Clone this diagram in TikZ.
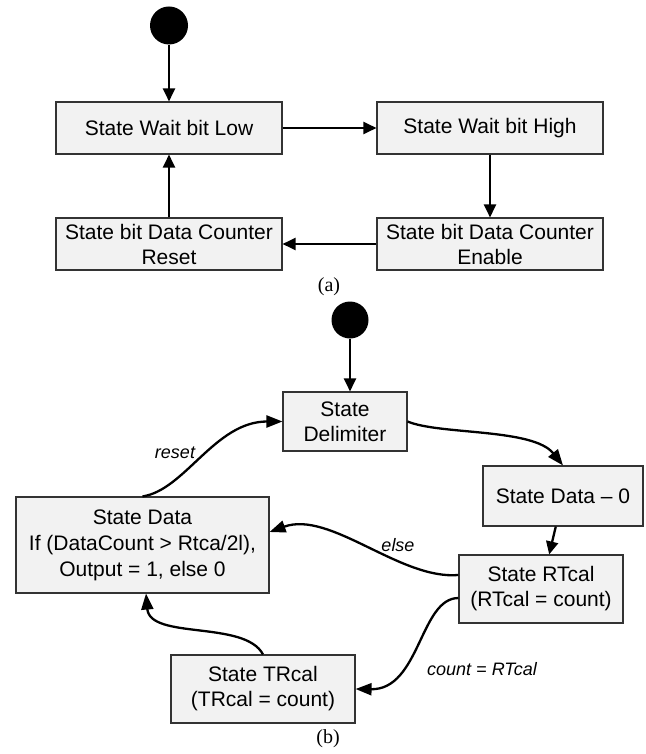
\documentclass[tikz,border=0pt]{standalone}
\usepackage{fontspec}
\setmainfont{Liberation Sans}
\newfontfamily\capfont{Liberation Serif}
\usetikzlibrary{arrows.meta}
\definecolor{boxfill}{HTML}{F2F2F2}
\definecolor{boxline}{HTML}{333333}
\tikzset{
  statebox/.style={draw=boxline, line width=1.1pt, fill=boxfill, align=center,
    inner sep=0pt, font=\fontsize{21}{25}\selectfont},
  startdot/.style={circle, fill=black, inner sep=0pt, minimum size=38pt},
  arr/.style={line width=2.3pt, -{Triangle[length=13pt,width=12pt]}},
  carr/.style={line width=2.3pt, -{Triangle[length=16pt,width=12pt]}},
  edgelabel/.style={font=\fontsize{18}{21}\selectfont\itshape},
  caption/.style={font=\capfont\fontsize{20}{24}\selectfont},
}
\begin{document}
\begin{tikzpicture}[x=1pt,y=1pt]
\useasboundingbox (0,0) rectangle (645,-754);

% ---- (a) bit level machine ----
\node[startdot] (sa) at (169,-25.5) {};
\node[statebox, minimum width=226pt, minimum height=52pt] (low) at (169,-128) {State Wait bit Low};
\node[statebox, minimum width=226pt, minimum height=52pt] (high) at (490,-128) {State Wait bit High};
\node[statebox, minimum width=226pt, minimum height=52pt] (rst) at (169,-244) {State bit Data Counter\\Reset};
\node[statebox, minimum width=226pt, minimum height=52pt] (ena) at (490,-244) {State bit Data Counter\\Enable};
\node[caption] (capa) at (329,-287) {(a)};

\draw[arr] (sa) -- (low);
\draw[arr] (low) -- (high);
\draw[arr] (high) -- (ena);
\draw[arr] (ena) -- (rst);
\draw[arr] (rst) -- (low);

% ---- (b) data decoding machine ----
\node[startdot, minimum size=37pt] (sb) at (350,-320) {};
\node[statebox, minimum width=124pt, minimum height=59pt] (delim) at (345,-421.5) {State\\Delimiter};
\node[statebox, minimum width=160pt, minimum height=60pt] (d0) at (563,-496) {State Data -- 0};
\node[statebox, minimum width=164pt, minimum height=68pt] (rt) at (541,-589) {State RTcal\\(RTcal = count)};
\node[statebox, minimum width=253pt, minimum height=96pt, font=\fontsize{21}{26}\selectfont] (sd) at (142.5,-545) {State Data\\If (DataCount > Rtca/2l),\\Output = 1, else 0};
\node[statebox, minimum width=184pt, minimum height=68pt] (tr) at (263,-689) {State TRcal\\(TRcal = count)};
\node[caption] (capb) at (328,-739) {(b)};

\draw[arr] (sb.south) -- (sb.south |- delim.north);
\draw[carr] (delim.east) .. controls (440,-435) and (533,-428) .. (d0.north);
\draw[arr] (d0) -- (rt);
\draw[carr] (sd.north) .. controls (185,-490) and (215,-421.5) .. (delim.west);
\draw[carr] ([yshift=14pt]rt.west) .. controls (400,-580) and (330,-510) .. ([yshift=13pt]sd.east);
\draw[carr] ([yshift=-9pt]rt.west) .. controls (420,-598) and (420,-690) .. (tr.east);
\draw[carr] (tr.north) .. controls (245,-620) and (150,-640) .. ([xshift=3.5pt]sd.south);

\node[edgelabel] (lreset) at (175,-453) {reset};
\node[edgelabel] (lelse) at (398,-545) {else};
\node[edgelabel] (lcount) at (482,-669) {count = RTcal};
\end{tikzpicture}
\end{document}
